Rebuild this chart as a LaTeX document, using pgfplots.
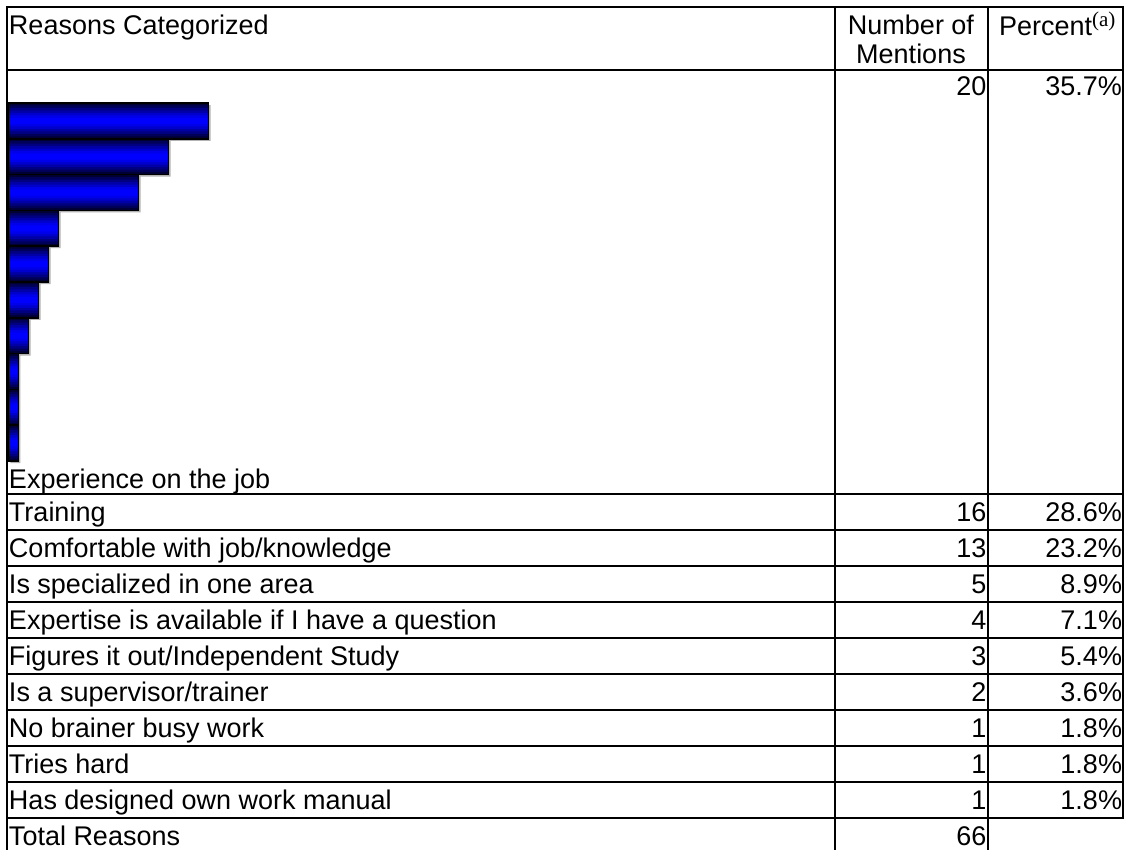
\documentclass[border=0pt]{standalone}
\usepackage{pgfplots}
\usepackage{pgfplotstable}
\pgfplotsset{compat=1.18}
\usepackage{fontspec}
\setmainfont{Liberation Sans}
\newfontfamily\seriffont{Liberation Serif}
\pgfplotstableread{
pos n
1 20
2 16
3 13
4 5
5 4
6 3
7 2
8 1
9 1
10 1
}\bars
\begin{document}
\begin{tikzpicture}[x=1pt,y=-1pt,
  every node/.style={font=\fontsize{27}{32}\selectfont, inner sep=0pt, outer sep=0pt}]
\useasboundingbox (0,0) rectangle (1124,849);
% bars
\begin{axis}[at={(8.5pt,-103pt)}, anchor=north west, scale only axis,
  width=200pt, height=358pt, xmin=0, xmax=20, ymin=0.5, ymax=10.5,
  y dir=reverse, hide axis, clip=false]
\addplot[xbar, bar width=35.8pt, draw=none, fill=gray!60, xshift=2pt, yshift=-2pt]
  table[x=n, y=pos] {\bars};
\addplot[xbar, bar width=35.8pt, draw=none, fill=blue!20!black] table[x=n, y=pos] {\bars};
\addplot[xbar, bar width=31pt, draw=none, fill=blue!35!black] table[x=n, y=pos] {\bars};
\addplot[xbar, bar width=26pt, draw=none, fill=blue!50!black] table[x=n, y=pos] {\bars};
\addplot[xbar, bar width=21pt, draw=none, fill=blue!65!black] table[x=n, y=pos] {\bars};
\addplot[xbar, bar width=16pt, draw=none, fill=blue!80!black] table[x=n, y=pos] {\bars};
\addplot[xbar, bar width=11pt, draw=none, fill=blue!92!black] table[x=n, y=pos] {\bars};
\addplot[xbar, bar width=6pt, draw=none, fill=blue] table[x=n, y=pos] {\bars};
\addplot[xbar, bar width=35.8pt, draw=black, fill=none, line width=1.6pt] table[x=n, y=pos] {\bars};
\end{axis}
% grid lines
\begin{scope}[line width=2.5pt, line cap=rect]
\foreach \yy in {7,70,494,530,566,602,638,674,710,746,782,818}
  \draw (7,\yy) -- (1123,\yy);
\draw (7,7) -- (7,860);
\draw (835,7) -- (835,860);
\draw (988,7) -- (988,860);
\draw (1123,7) -- (1123,818);
\end{scope}
% header
\node[anchor=base west] at (9,34) {Reasons Categorized};
\node[anchor=base] at (911,34) {Number of};
\node[anchor=base] at (911,63) {Mentions};
\node[anchor=base west] at (999,35) {Percent\raisebox{9pt}{\seriffont\fontsize{21}{22}\selectfont(a)}};
% first row
\node[anchor=base east] at (986.5,95) {20};
\node[anchor=base east] at (1122,95) {35.7\%};
\node[anchor=base west] at (9,488) {Experience on the job};
% other rows
\foreach \name/\num/\pct [count=\i from 0] in {
  Training/16/28.6\%,
  Comfortable with job\slash knowledge/13/23.2\%,
  Is specialized in one area/5/8.9\%,
  Expertise is available if I have a question/4/7.1\%,
  Figures it out\slash Independent Study/3/5.4\%,
  Is a supervisor\slash trainer/2/3.6\%,
  No brainer busy work/1/1.8\%,
  Tries hard/1/1.8\%,
  Has designed own work manual/1/1.8\%,
  Total Reasons/66/{}}
{
  \pgfmathsetmacro{\by}{494+36*\i+27.5}
  \node[anchor=base west] at (9,\by) {\name};
  \node[anchor=base east] at (986.5,\by) {\num};
  \node[anchor=base east] at (1122,\by) {\pct};
}
\end{tikzpicture}
\end{document}
